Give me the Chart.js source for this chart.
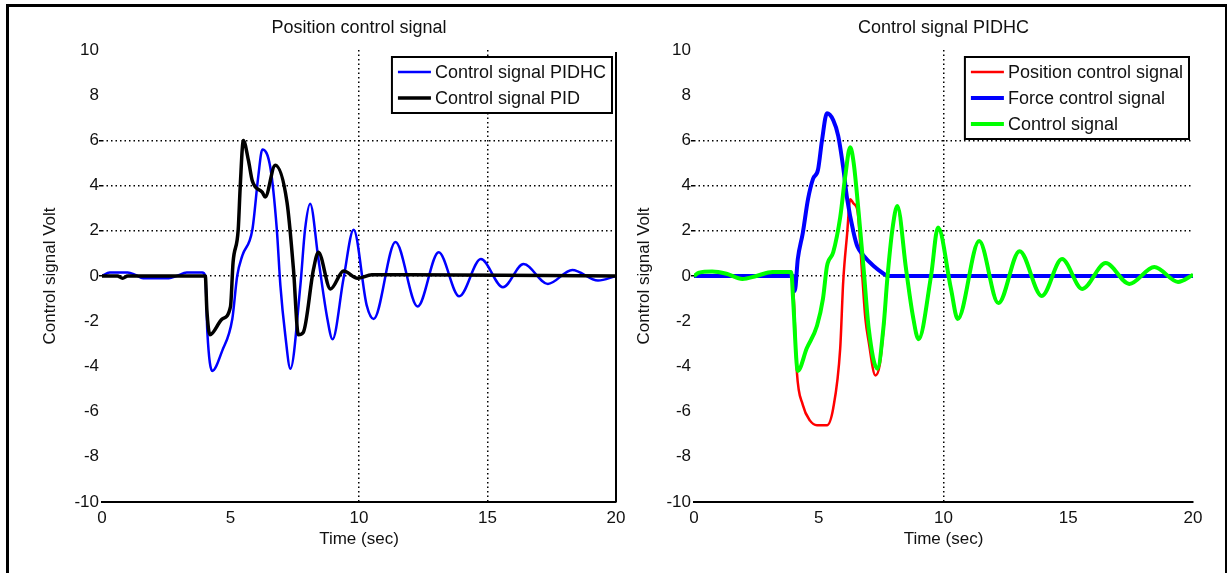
<!DOCTYPE html>
<html>
<head>
<meta charset="utf-8">
<script src="https://cdn.jsdelivr.net/npm/chart.js@4.4.0/dist/chart.umd.min.js"></script>
<style>
    body { margin: 0; background: #fff; width: 1230px; height: 573px; position: relative; overflow: hidden; }
    #frame { position: absolute; left: 6px; top: 4px; width: 1216px; height: 600px; border-top: 3px solid #000; border-left: 3px solid #000; border-right: 2px solid #000; }
    #left { position: absolute; left: 0; top: 0; }
    #right { position: absolute; left: 620px; top: 0; }
</style>
</head>
<body>
<div id="frame"></div>
<canvas id="left" width="640" height="573"></canvas>
<canvas id="right" width="610" height="573"></canvas>

<script>
// Eixos
var xTicks = [0, 5, 10, 15, 20]
var yTicks = [-10, -8, -6, -4, -2, 0, 2, 4, 6, 8, 10]

// Gráfico da esquerda - Position control signal
var tPIDHC = [0, 0.3, 1.0, 1.3, 1.6, 2.6, 2.9, 3.3, 3.9, 4.02, 4.1, 4.29, 4.68, 5.07, 5.26, 5.46, 5.85, 6.08, 6.24, 6.55, 6.8, 6.94, 7.13, 7.33, 7.72, 7.9, 8.1, 8.42, 8.77, 8.97, 9.4, 9.79, 10.3, 10.57, 11.42, 12.28, 13.1, 13.9, 14.74, 15.6, 16.4, 17.35, 18.3, 19.3, 20]
var vPIDHC = [0, 0.15, 0.15, 0.05, -0.1, -0.1, 0, 0.15, 0.15, 0, -2.5, -4.2, -3.3, -1.9, 0, 0.9, 2.05, 4.4, 5.6, 4.8, 2.1, -0.4, -2.6, -4.1, -0.4, 2.05, 3.2, 0.75, -1.9, -2.8, -0.1, 2.05, -1.3, -1.9, 1.5, -1.35, 1.05, -0.9, 0.75, -0.5, 0.53, -0.35, 0.27, -0.2, 0]

var tPID = [0, 0.6, 0.8, 1.0, 4.02, 4.08, 4.2, 4.68, 5.0, 5.1, 5.3, 5.38, 5.5, 5.7, 5.85, 6.24, 6.35, 6.74, 7.2, 7.45, 7.64, 7.83, 8.23, 8.42, 8.89, 9.4, 9.94, 10.5, 12, 20]
var vPID = [0, 0, -0.1, 0, 0, -1.5, -2.6, -1.9, -1.35, 0.6, 2.05, 4.0, 6.0, 5.1, 4.2, 3.7, 3.5, 4.9, 3.25, 0.3, -2.6, -2.5, 0.3, 1.05, -0.57, 0.22, -0.1, 0.05, 0.05, 0]

// Gráfico da direita - Control signal PIDHC
var tPos = [0, 0.2, 0.73, 1.3, 1.94, 2.5, 3.15, 3.9, 4.0, 4.12, 4.36, 4.65, 4.93, 5.33, 5.58, 5.86, 5.98, 6.14, 6.26, 6.4, 6.55, 6.75, 6.87, 7.0, 7.27, 7.45, 7.6, 7.75, 7.95, 8.15, 8.5, 8.77, 9.0, 9.5, 9.78, 10.3, 10.57, 11.43, 12.2, 13.05, 13.94, 14.75, 15.56, 16.5, 17.45, 18.45, 19.4, 20]
var vPos = [0, 0.15, 0.2, 0.1, -0.13, 0, 0.18, 0.18, -1.0, -4.2, -5.7, -6.4, -6.6, -6.6, -5.85, -3.2, -0.26, 1.9, 3.4, 3.2, 2.9, -0.1, -1.9, -2.9, -4.4, -3.9, -2.3, -0.1, 2.05, 3.1, 0.3, -1.75, -2.8, 0, 2.15, -0.57, -1.9, 1.55, -1.2, 1.1, -0.88, 0.75, -0.57, 0.57, -0.35, 0.4, -0.26, 0.05]

var tForce = [0, 3.98, 4.04, 4.16, 4.36, 4.57, 4.77, 4.97, 5.13, 5.33, 5.58, 5.78, 5.98, 6.14, 6.4, 6.55, 6.8, 7.2, 7.6, 7.75, 20]
var vForce = [0, 0, -0.66, 0.75, 1.9, 3.4, 4.3, 4.7, 6.0, 7.2, 6.9, 6.2, 4.8, 3.4, 1.9, 1.3, 0.9, 0.44, 0.1, 0, 0]

var tCtrl = [0, 0.2, 0.73, 1.3, 1.94, 2.5, 3.15, 3.9, 3.97, 4.16, 4.52, 4.93, 5.17, 5.33, 5.58, 5.86, 6.06, 6.26, 6.4, 6.6, 6.8, 7.0, 7.35, 7.6, 7.75, 7.95, 8.15, 8.5, 8.77, 9.0, 9.5, 9.78, 10.3, 10.57, 11.43, 12.2, 13.05, 13.94, 14.75, 15.56, 16.5, 17.45, 18.45, 19.4, 20]
var vCtrl = [0, 0.15, 0.2, 0.1, -0.13, 0, 0.18, 0.18, -1.0, -4.2, -3.2, -2.2, -1.0, 0.44, 1.05, 2.6, 4.4, 5.7, 5.0, 2.8, 0.3, -2.3, -4.1, -2.2, -0.1, 2.05, 3.1, 0.3, -1.75, -2.8, 0, 2.15, -0.57, -1.9, 1.55, -1.2, 1.1, -0.88, 0.75, -0.57, 0.57, -0.35, 0.4, -0.26, 0.05]

var FONT = '"Liberation Sans", Arial, sans-serif'

function pontos(t, v) {
    let p = []
    for (let i = 0; i < t.length; i++) {
        p.push({ x: t[i], y: v[i] })
    }
    return p
}

// título centrado nos eixos, legenda com caixa e borda da direita
const boxLegend = {
    id: 'boxLegend',
    afterDraw(chart, args, opts) {
        const ctx = chart.ctx
        const area = chart.chartArea
        const sets = chart.data.datasets
        ctx.save()
        ctx.fillStyle = '#111'
        ctx.font = '18px ' + FONT
        ctx.textAlign = 'center'
        ctx.textBaseline = 'middle'
        ctx.fillText(opts.title, (area.left + area.right) / 2, 28)

        ctx.textAlign = 'left'
        let wText = 0
        sets.forEach(d => { wText = Math.max(wText, ctx.measureText(d.label).width) })
        const w = 43 + wText + 6
        const h = 30 + 26 * (sets.length - 1)
        const x0 = area.right - 4 - w
        const y0 = area.top + 7
        ctx.fillStyle = '#fff'
        ctx.fillRect(x0, y0, w, h)
        ctx.strokeStyle = '#000'
        ctx.lineWidth = 2
        ctx.strokeRect(x0, y0, w, h)
        sets.forEach((d, i) => {
            const y = y0 + 15 + 26 * i
            ctx.strokeStyle = d.borderColor
            ctx.lineWidth = d.borderWidth
            ctx.beginPath()
            ctx.moveTo(x0 + 6, y)
            ctx.lineTo(x0 + 39, y)
            ctx.stroke()
            ctx.fillStyle = '#111'
            ctx.fillText(d.label, x0 + 43, y + 1)
        })
        if (opts.rightBorder) {
            ctx.strokeStyle = '#000'
            ctx.lineWidth = 2
            ctx.beginPath()
            ctx.moveTo(area.right, area.top + 2)
            ctx.lineTo(area.right, area.bottom)
            ctx.stroke()
        }
        ctx.restore()
    }
}

function opcoes(titulo, gridX, padLeft, yWidth, padRight, rightBorder) {
    return {
        responsive: false,
        animation: false,
        layout: { padding: { left: padLeft, right: padRight, top: 50, bottom: 23 } },
        elements: { point: { radius: 0 } },
        plugins: {
            legend: { display: false },
            tooltip: { enabled: false },
            title: { display: false },
            boxLegend: { title: titulo, rightBorder: rightBorder }
        },
        scales: {
            x: {
                type: 'linear', min: 0, max: 20,
                afterBuildTicks: s => { s.ticks = xTicks.map(v => ({ value: v })) },
                afterFit: s => { s.height = 48 },
                ticks: { color: '#111', font: { family: FONT, size: 17 }, padding: 2, maxRotation: 0 },
                grid: {
                    color: c => gridX.includes(c.tick.value) ? '#000' : 'rgba(0,0,0,0)',
                    lineWidth: 1.5, tickLength: 4, tickColor: 'rgba(0,0,0,0)'
                },
                border: { display: true, color: '#000', width: 2, dash: [1.5, 3] },
                title: { display: true, text: 'Time (sec)', color: '#111', font: { family: FONT, size: 17 }, padding: { top: 0, bottom: 0 } }
            },
            y: {
                type: 'linear', min: -10, max: 10,
                afterBuildTicks: s => { s.ticks = yTicks.map(v => ({ value: v })) },
                afterFit: s => { s.width = yWidth },
                ticks: { color: '#111', font: { family: FONT, size: 17 }, padding: 0 },
                grid: {
                    color: c => [0, 2, 4, 6].includes(c.tick.value) ? '#000' : 'rgba(0,0,0,0)',
                    lineWidth: 1.5, tickLength: 3,
                    tickColor: c => [0, 2, 4, 6].includes(c.tick.value) ? '#000' : 'rgba(0,0,0,0)'
                },
                border: { display: false, dash: [1.5, 3] },
                title: { display: true, text: 'Control signal Volt', color: '#111', font: { family: FONT, size: 17 }, padding: 4 }
            }
        }
    }
}

function chart1() {
    const ctx = document.getElementById('left').getContext('2d')
    new Chart(ctx, {
        type: 'line',
        data: {
            datasets: [{
                label: 'Control signal PIDHC',
                data: pontos(tPIDHC, vPIDHC),
                borderColor: '#0000ff',
                borderWidth: 2.5,
                cubicInterpolationMode: 'monotone',
                order: 2
            }, {
                label: 'Control signal PID',
                data: pontos(tPID, vPID),
                borderColor: '#000000',
                borderWidth: 3.5,
                cubicInterpolationMode: 'monotone',
                order: 1
            }]
        },
        options: opcoes('Position control signal', [10, 15], 36, 66, 24, true),
        plugins: [boxLegend]
    })
}

function chart2() {
    const ctx = document.getElementById('right').getContext('2d')
    new Chart(ctx, {
        type: 'line',
        data: {
            datasets: [{
                label: 'Position control signal',
                data: pontos(tPos, vPos),
                borderColor: '#ff0000',
                borderWidth: 2.5,
                cubicInterpolationMode: 'monotone',
                order: 3
            }, {
                label: 'Force control signal',
                data: pontos(tForce, vForce),
                borderColor: '#0000ff',
                borderWidth: 4,
                cubicInterpolationMode: 'monotone',
                order: 2
            }, {
                label: 'Control signal',
                data: pontos(tCtrl, vCtrl),
                borderColor: '#00ff00',
                borderWidth: 4,
                cubicInterpolationMode: 'monotone',
                order: 1
            }]
        },
        options: opcoes('Control signal PIDHC', [10], 10, 64, 37, false),
        plugins: [boxLegend]
    })
}

chart1()
chart2()
</script>
</body>
</html>
